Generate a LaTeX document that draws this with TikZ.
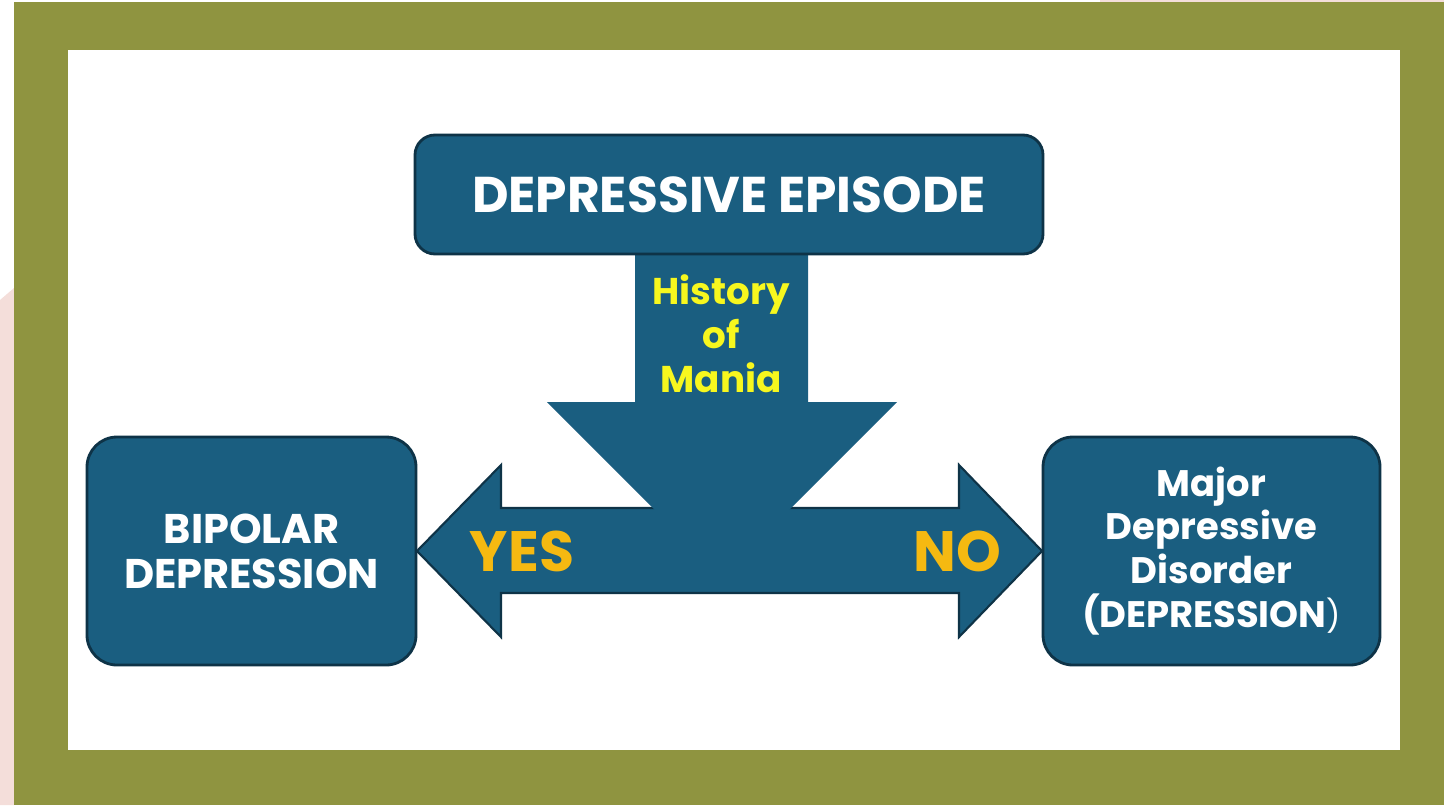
\documentclass[tikz,border=0pt]{standalone}
\usepackage{fontspec}
\setmainfont{Poppins}

\definecolor{frameolive}{HTML}{8F9440}
\definecolor{pinkish}{HTML}{F4DEDA}
\definecolor{boxblue}{HTML}{1A5E80}
\definecolor{boxline}{HTML}{0E3347}
\definecolor{maniayellow}{HTML}{F7F71E}
\definecolor{answeryellow}{HTML}{F5B911}

\begin{document}
\begin{tikzpicture}[
    box/.style={draw=boxline, fill=boxblue, line width=0.8pt, rounded corners=0.3cm,
      text=white, align=center, inner sep=0pt},
    answer/.style={text=answeryellow, font=\bfseries\fontsize{16.2}{19}\selectfont}]
        \useasboundingbox (0,0) rectangle (14.44,-8.05);

        % frame
        \fill[pinkish] (0,-3.0) -- (0.14,-2.88) -- (0.14,-8.05) -- (0,-8.05) -- cycle;
        \fill[pinkish] (11.0,0) rectangle (14.44,-0.03);
        \fill[frameolive] (0.14,-0.02) rectangle (14.44,-8.05);
        \fill[white] (0.68,-0.50) rectangle (14.00,-7.50);

        \coordinate (lefttip) at (4.17,-5.51);
        \coordinate (righttip) at (10.42,-5.51);

        % arrows
        \draw[boxline, fill=boxblue, line width=0.6pt] (lefttip) -- (5.01,-4.65) -- (5.01,-5.08)
          -- (9.59,-5.08) -- (9.59,-4.65) -- (righttip) -- (9.59,-6.37) -- (9.59,-5.93)
          -- (5.01,-5.93) -- (5.01,-6.37) -- cycle;
        \fill[boxblue] (6.35,-2.50) -- (8.08,-2.50) -- (8.08,-4.02) -- (8.97,-4.02)
          -- (7.22,-5.77) -- (5.47,-4.02) -- (6.35,-4.02) -- cycle;

        \node[box, minimum width=6.28cm, minimum height=1.19cm, rounded corners=0.2cm,
          font=\bfseries\fontsize{14.3}{16}\selectfont] (episode) at (7.29,-1.945) {DEPRESSIVE EPISODE};
        \node[box, minimum width=3.29cm, minimum height=2.28cm,
          font=\bfseries\fontsize{11.8}{12.8}\selectfont] (bipolar) at (2.515,-5.51) {BIPOLAR\\DEPRESSION};
        \node[box, minimum width=3.37cm, minimum height=2.28cm,
          font=\bfseries\fontsize{10.5}{12.5}\selectfont] (major) at (12.115,-5.51)
          {Major\\Depressive\\Disorder\\(DEPRESSION{\mdseries\fontsize{9}{10}\selectfont)}};

        \node[text=maniayellow, align=center, font=\bfseries\fontsize{10.6}{12.5}\selectfont] (mania) at (7.21,-3.34) {History\\of\\Mania};
        \node[answer] (yes) at (5.22,-5.51) {YES};
        \node[answer] (no) at (9.57,-5.51) {NO};
\end{tikzpicture}
\end{document}
